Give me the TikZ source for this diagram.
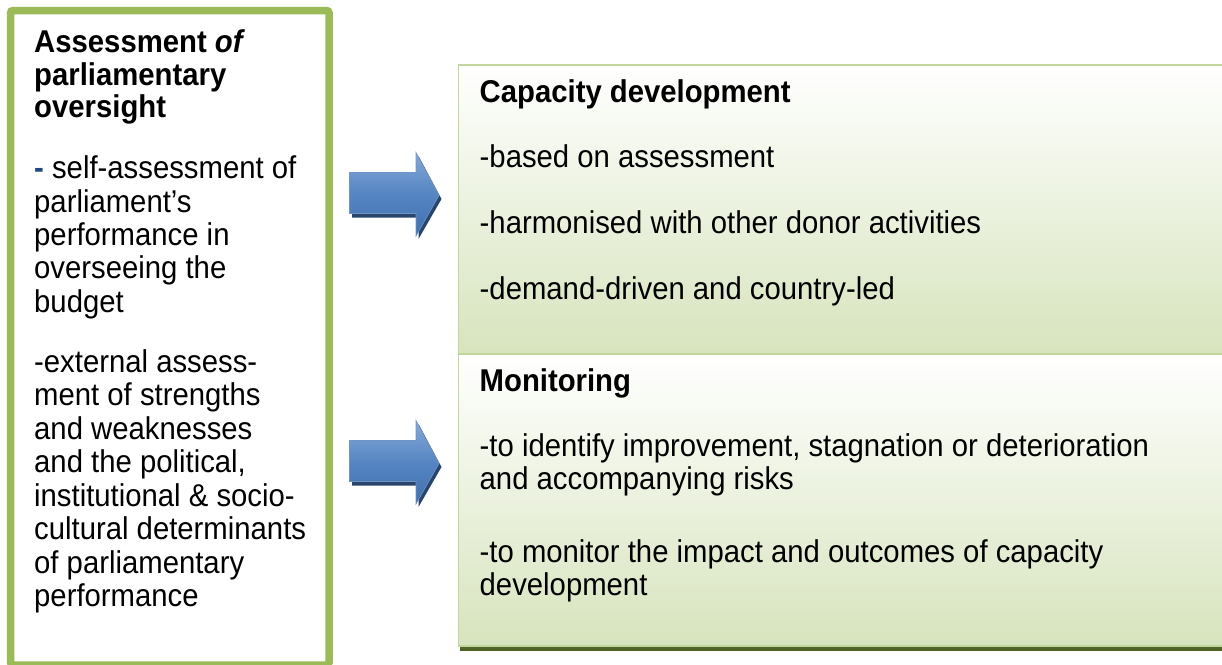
\documentclass[tikz,border=0pt]{standalone}
\usepackage{fontspec}
\setmainfont[FakeStretch=0.93]{Liberation Sans}
\definecolor{boxgreen}{HTML}{9BBB59}
\definecolor{edgegreen}{HTML}{C3D69B}
\definecolor{fillgreen}{HTML}{D7E4BD}
\definecolor{shadowolive}{HTML}{4F6228}
\definecolor{arrowtop}{HTML}{86A9D8}
\definecolor{arrowmid}{HTML}{5585C2}
\definecolor{arrowbot}{HTML}{416FAD}
\definecolor{arrowedge}{HTML}{6F95C8}
\definecolor{arrowshadow}{HTML}{29456B}
\definecolor{dashblue}{HTML}{1F497D}
\tikzset{
  txt/.style={anchor=base west, inner sep=0pt, font=\fontsize{31.5}{33}\selectfont},
  ttl/.style={txt, font=\fontsize{31.5}{33}\selectfont\bfseries},
  panel/.style={rectangle, anchor=north west, inner sep=0pt, draw=edgegreen, line width=1.6pt,
    top color=white, bottom color=fillgreen},
  blockarrow/.pic={
    \fill[arrowshadow] (2.5,-16.5) -- (69,-16.5) -- (69,-37) -- (92,6) -- (69,46) -- (69,24.5) -- (2.5,24.5) -- cycle;
    \shade[top color=arrowtop, bottom color=arrowbot, middle color=arrowmid, draw=arrowedge, line width=0.6pt]
      (0,-20.5) -- (66.5,-20.5) -- (66.5,-40.5) -- (89.5,2.5) -- (66.5,43) -- (66.5,20.5) -- (0,20.5) -- cycle;
  }
}
\begin{document}
\begin{tikzpicture}[x=1pt,y=-1pt]
\useasboundingbox (0,0) rectangle (1222,664);
\clip (0,0) rectangle (1222,664);

% left assessment box
\draw[line width=7.5pt, draw=boxgreen, fill=white, rounded corners=2.5pt] (10.5,10.5) rectangle (329,665);

% right panels with shadow
\fill[shadowolive] (459.5,600) rectangle (1240,650.8);
\node[panel, minimum width=790pt, minimum height=289pt] (cap) at (457.5,64) {};
\node[panel, minimum width=790pt, minimum height=292pt] (mon) at (457.5,353) {};

% arrows
\pic (arrowA) at (349.5,193) {blockarrow};
\pic (arrowB) at (349.5,461) {blockarrow};

% left box text
\node[ttl] (l1) at (34,52) {Assessment \textit{of}};
\node[ttl] (l2) at (34,85) {parliamentary};
\node[ttl] (l3) at (34,117.5) {oversight};
\node[txt] (l4) at (34,178.5) {{\color{dashblue}\textbf{-}} self-assessment of};
\node[txt] (l5) at (34,212) {parliament’s};
\node[txt] (l6) at (34,245) {performance in};
\node[txt] (l7) at (34,278.5) {overseeing the};
\node[txt] (l8) at (34,312) {budget};
\node[txt] (l9) at (34,372) {-external assess-};
\node[txt] (l10) at (34,405.5) {ment of strengths};
\node[txt] (l11) at (34,439) {and weaknesses};
\node[txt] (l12) at (34,472.5) {and the political,};
\node[txt] (l13) at (34,506) {institutional \& socio-};
\node[txt] (l14) at (34,539.5) {cultural determinants};
\node[txt] (l15) at (34,573) {of parliamentary};
\node[txt] (l16) at (34,606.5) {performance};

% capacity development text
\node[ttl] (c1) at (479.5,102) {Capacity development};
\node[txt] (c2) at (479.5,167) {-based on assessment};
\node[txt] (c3) at (479.5,233) {-harmonised with other donor activities};
\node[txt] (c4) at (479.5,299) {-demand-driven and country-led};

% monitoring text
\node[ttl] (m1) at (479.5,391) {Monitoring};
\node[txt] (m2) at (479.5,456) {-to identify improvement, stagnation or deterioration};
\node[txt] (m3) at (479.5,489) {and accompanying risks};
\node[txt] (m4) at (479.5,562) {-to monitor the impact and outcomes of capacity};
\node[txt] (m5) at (479.5,595) {development};
\end{tikzpicture}
\end{document}
